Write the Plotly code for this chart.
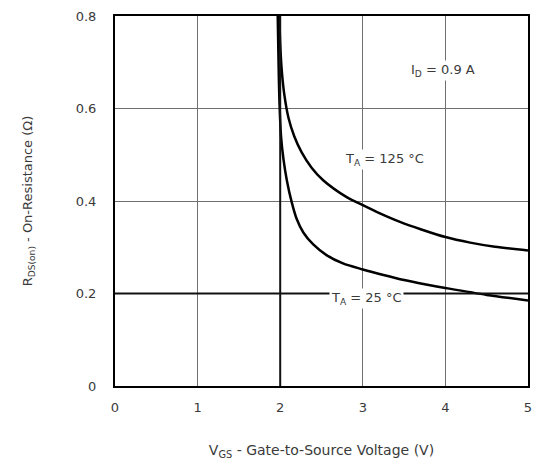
import plotly.graph_objects as go

# 25 °C curve
vgs_25 = [1.97, 1.98, 1.99, 2.01, 2.04, 2.08, 2.14, 2.20, 2.28, 2.40, 2.56, 2.76, 3.0,
          3.25, 3.5, 3.75, 4.0, 4.5, 5.0]
r_25 = [0.80, 0.70, 0.62, 0.54, 0.49, 0.445, 0.397, 0.361, 0.332, 0.306, 0.283, 0.265, 0.252,
        0.240, 0.229, 0.220, 0.212, 0.197, 0.185]

# 125 °C curve
vgs_125 = [1.99, 2.00, 2.02, 2.05, 2.10, 2.17, 2.26, 2.38, 2.52, 2.8, 3.0, 3.2, 3.45,
           3.7, 4.0, 4.3, 4.6, 5.0]
r_125 = [0.80, 0.74, 0.68, 0.63, 0.58, 0.54, 0.505, 0.472, 0.445, 0.409, 0.391, 0.374, 0.355,
         0.339, 0.322, 0.310, 0.301, 0.293]

x_ticks = [0, 1, 2, 3, 4, 5]
y_ticks = [0, 0.2, 0.4, 0.6, 0.8]
y_tick_labels = ["0", "0.2", "0.4", "0.6", "0.8"]

FONT = "DejaVu Sans, Arial, sans-serif"
TXT = "#3a3a3a"

fig = go.Figure()
fig.add_trace(go.Scatter(x=vgs_125, y=r_125, mode="lines",
                         line=dict(color="black", width=2.5, shape="spline", smoothing=0.8),
                         showlegend=False, hoverinfo="skip"))
fig.add_trace(go.Scatter(x=vgs_25, y=r_25, mode="lines",
                         line=dict(color="black", width=2.5, shape="spline", smoothing=0.8),
                         showlegend=False, hoverinfo="skip"))

# emphasized grid lines as in the datasheet
fig.add_hline(y=0.2, line=dict(color="#111111", width=2), layer="above")
fig.add_vline(x=2, line=dict(color="#111111", width=2), layer="above")

fig.add_annotation(x=3.97, y=0.683, text="I<sub>D</sub> = 0.9 A", showarrow=False,
                   font=dict(family=FONT, size=13, color=TXT), bgcolor="white")
fig.add_annotation(x=3.26, y=0.489, text="T<sub>A</sub> = 125 °C", showarrow=False,
                   font=dict(family=FONT, size=13, color=TXT), bgcolor="white")
fig.add_annotation(x=3.04, y=0.19, text="T<sub>A</sub> = 25 °C", showarrow=False,
                   font=dict(family=FONT, size=13, color=TXT), bgcolor="white")

fig.update_layout(
    width=539, height=461,
    margin=dict(l=115, r=11, t=16, b=75),
    paper_bgcolor="white", plot_bgcolor="white",
    font=dict(family=FONT, size=13, color=TXT),
    xaxis=dict(range=[0, 5], tickvals=x_ticks, showgrid=True, gridcolor="#707070", gridwidth=1,
               zeroline=False, showline=True, linecolor="black", linewidth=2, mirror=True,
               ticks="", ticklabelstandoff=8, tickfont=dict(family=FONT, size=13, color=TXT),
               automargin=False,
               title=dict(text="V<sub>GS</sub> - Gate-to-Source Voltage (V)", standoff=32,
                          font=dict(family=FONT, size=14, color=TXT))),
    yaxis=dict(range=[0, 0.8], tickvals=y_ticks, ticktext=y_tick_labels, showgrid=True,
               gridcolor="#707070", gridwidth=1, zeroline=False, showline=True,
               linecolor="black", linewidth=2, mirror=True, ticks="", ticklabelstandoff=14,
               tickfont=dict(family=FONT, size=13, color=TXT), automargin=False,
               title=dict(text="R<sub>DS(on)</sub> - On-Resistance (Ω)", standoff=40,
                          font=dict(family=FONT, size=13, color=TXT))),
)

fig.write_html("out.html")
